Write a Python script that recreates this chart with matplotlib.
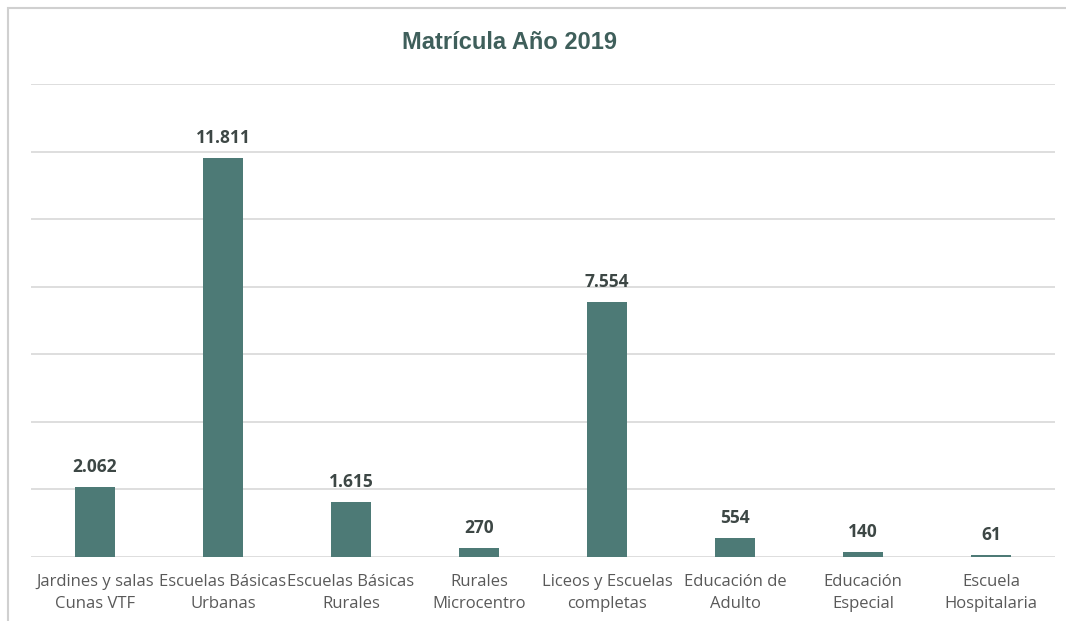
import matplotlib.pyplot as plt
from matplotlib.patches import Rectangle
import numpy as np

categories = ['Jardines y salas\nCunas VTF', 'Escuelas Básicas\nUrbanas', 'Escuelas Básicas\nRurales',
              'Rurales\nMicrocentro', 'Liceos y Escuelas\ncompletas', 'Educación de\nAdulto',
              'Educación\nEspecial', 'Escuela\nHospitalaria']
matricula = [2062, 11811, 1615, 270, 7554, 554, 140, 61]

bar_color = '#4d7a76'

fig = plt.figure(figsize=(10.66, 6.21), dpi=100)
ax = fig.add_axes([0.029, 0.1031, 0.961, 0.7616])

# light frame around the chart area
fig.patches.append(Rectangle((8 / 1066, -0.05), 1.2, 1 - 8 / 621 + 0.05, transform=fig.transFigure,
                             fill=False, edgecolor='#d0d0d0', linewidth=1.5))

x = np.arange(len(categories))
ax.bar(x, matricula, width=0.31, color=bar_color, zorder=3)

for xi, v in zip(x, matricula):
    ax.text(xi, v + 330, f'{v:,}'.replace(',', '.'), ha='center', va='bottom',
            fontsize=12.5, fontweight='bold', color='#3d4745', family='Open Sans')

ax.set_xlim(-0.5, len(categories) - 0.5)
ax.set_ylim(0, 14000)
ax.set_yticks(np.arange(0, 14001, 2000))
ax.yaxis.grid(True, color='#d4d4d4', linewidth=1.1)
ax.tick_params(axis='y', length=0, labelleft=False)
ax.tick_params(axis='x', length=0, pad=12)
ax.set_xticks(x)
ax.set_xticklabels(categories, fontsize=12, color='#595959', family='Open Sans', linespacing=1.5)
for s in ax.spines.values():
    s.set_visible(False)

fig.text(510 / 1066, 0.932, 'Matrícula Año 2019', ha='center', va='center', fontsize=17,
         fontweight='bold', color='#3f5f5b', family='Liberation Sans')

fig.savefig('out.png', dpi=100)
